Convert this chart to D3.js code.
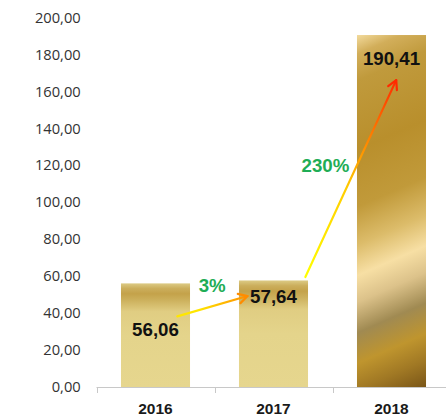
<!DOCTYPE html>
<html>
<head>
<meta charset="utf-8">
<script src="https://cdn.jsdelivr.net/npm/d3@7"></script>
<style>
  html, body { margin: 0; padding: 0; background: #fff; }
  svg { display: block; }
</style>
</head>
<body>
<svg id="chart" width="446" height="418"></svg>
<script>
// ---- data ----
const categories = ["2016", "2017", "2018"];
const values = [56.06, 57.64, 190.41];
const yTicks = [0, 20, 40, 60, 80, 100, 120, 140, 160, 180, 200];
// growth annotations: label, anchor category + offset (in band steps), value
const growthLabels = ["3%", "230%"];
const growthLabelCat = ["2016", "2017"];
const growthLabelOffset = [0.48, 0.44];
const growthLabelValue = [55.1, 120];
// arrows: from (category+offset, value) to (category+offset, value)
const arrowFromCat = ["2016", "2017"];
const arrowFromOffset = [0.185, 0.27];
const arrowFromValue = [38.2, 59.5];
const arrowToCat = ["2017", "2018"];
const arrowToOffset = [-0.22, 0.04];
const arrowToValue = [49.2, 166];
const arrowColorsStart = ["#ffe600", "#ffff00"];
const arrowColorsEnd = ["#ff8c00", "#ff2a00"];

const fmt = d => d.toFixed(2).replace(".", ",");

const svg = d3.select("#chart");
const W = 446, H = 418;
const x = d3.scaleBand().domain(categories).range([96.5, 450.5])
  .paddingInner(0.415).paddingOuter(0.2075);
const y = d3.scaleLinear().domain([0, 200]).range([387, 17.3]);
const step = x.step();
const cx = (c, off) => x(c) + x.bandwidth() / 2 + off * step;

const defs = svg.append("defs");

// gradient for smaller bars (vertical)
const g1 = defs.append("linearGradient").attr("id", "goldV")
  .attr("x1", 0).attr("y1", 0).attr("x2", 0).attr("y2", 1);
[[0, "#dccb85"], [0.05, "#cbae5c"], [0.1, "#c4a24a"], [0.16, "#ccb05c"],
 [0.27, "#e0cd82"], [0.5, "#e4d48b"], [1, "#e6d68e"]]
  .forEach(([o, c]) => g1.append("stop").attr("offset", o).attr("stop-color", c));

// diagonal gradient for the tall bar
const bx = x("2018"), bw = x.bandwidth(), by = y(values[2]), bh = y(0) - y(values[2]);
const nx = 0.399, ny = 0.917;
const len = bw * nx + bh * ny;
const g2 = defs.append("linearGradient").attr("id", "goldD")
  .attr("gradientUnits", "userSpaceOnUse")
  .attr("x1", bx).attr("y1", by)
  .attr("x2", bx + nx * len).attr("y2", by + ny * len);
[[0, "#f2da9c"], [0.05, "#d2ae5a"], [0.12, "#c09a3c"], [0.3, "#b98f2c"],
 [0.45, "#c19a3a"], [0.55, "#dcbc6a"], [0.63, "#f7dfa4"], [0.7, "#dcc28a"],
 [0.78, "#a08a52"], [0.86, "#bf952e"], [0.93, "#a07824"], [1, "#7a5618"]]
  .forEach(([o, c]) => g2.append("stop").attr("offset", o).attr("stop-color", c));

// arrow gradients
categories.slice(0, 2).forEach((_, i) => {
  const g = defs.append("linearGradient").attr("id", "arr" + i)
    .attr("gradientUnits", "userSpaceOnUse")
    .attr("x1", cx(arrowFromCat[i], arrowFromOffset[i])).attr("y1", y(arrowFromValue[i]))
    .attr("x2", cx(arrowToCat[i], arrowToOffset[i])).attr("y2", y(arrowToValue[i]));
  g.append("stop").attr("offset", 0).attr("stop-color", arrowColorsStart[i]);
  g.append("stop").attr("offset", i === 1 ? 0.45 : 0.3).attr("stop-color", i === 1 ? "#ffcc00" : arrowColorsStart[i]);
  g.append("stop").attr("offset", 1).attr("stop-color", arrowColorsEnd[i]);
});

// y axis labels
svg.append("g").selectAll("text").data(yTicks).join("text")
  .attr("x", 80.7).attr("y", d => y(d)).attr("dy", "0.36em")
  .attr("text-anchor", "end")
  .attr("font-family", "Open Sans, sans-serif").attr("font-size", 14.7)
  .attr("fill", "#333")
  .text(fmt);

// bars
svg.append("g").selectAll("rect").data(values).join("rect")
  .attr("x", (d, i) => x(categories[i]))
  .attr("y", d => y(d))
  .attr("width", x.bandwidth())
  .attr("height", d => y(0) - y(d))
  .attr("fill", (d, i) => i === 2 ? "url(#goldD)" : "url(#goldV)");

// x axis
const xAxis = svg.append("g");
xAxis.append("line").attr("x1", x.range()[0]).attr("x2", W)
  .attr("y1", y(0) + 0.5).attr("y2", y(0) + 0.5)
  .attr("stroke", "#c8c8c8").attr("stroke-width", 1);
const bounds = categories.map(c => x(c) - (step - x.bandwidth()) / 2);
xAxis.selectAll("line.tk").data(bounds).join("line").attr("class", "tk")
  .attr("x1", d => Math.round(d) + 0.5).attr("x2", d => Math.round(d) + 0.5)
  .attr("y1", y(0)).attr("y2", y(0) + 6)
  .attr("stroke", "#c8c8c8");
xAxis.selectAll("text").data(categories).join("text")
  .attr("x", d => x(d) + x.bandwidth() / 2).attr("y", 414)
  .attr("text-anchor", "middle")
  .attr("font-family", "Liberation Sans, Arial, sans-serif")
  .attr("font-weight", "bold").attr("font-size", 15.5)
  .attr("fill", "#1a1a1a")
  .text(d => d);

// value labels
const valueLabelY = [329.4, 296.7, 58.3].map(v => y.invert(v));
svg.append("g").selectAll("text").data(values).join("text")
  .attr("x", (d, i) => x(categories[i]) + x.bandwidth() / 2)
  .attr("y", (d, i) => y(valueLabelY[i])).attr("dy", "0.36em")
  .attr("text-anchor", "middle")
  .attr("font-family", "Liberation Sans, Arial, sans-serif")
  .attr("font-weight", "bold").attr("font-size", 18.7)
  .attr("fill", "#111")
  .text(fmt);

// arrows
arrowFromCat.forEach((_, i) => {
  const x1 = cx(arrowFromCat[i], arrowFromOffset[i]), y1 = y(arrowFromValue[i]);
  const x2 = cx(arrowToCat[i], arrowToOffset[i]), y2 = y(arrowToValue[i]);
  const ang = Math.atan2(y2 - y1, x2 - x1);
  const hl = 10, ha = 0.5;
  const g = svg.append("g").attr("fill", "none")
    .attr("stroke-width", 2.2).attr("stroke-linecap", "round").attr("stroke-linejoin", "round");
  g.append("line").attr("x1", x1).attr("y1", y1).attr("x2", x2).attr("y2", y2)
    .attr("stroke", `url(#arr${i})`);
  g.append("path")
    .attr("d", `M${x2 - hl * Math.cos(ang - ha)},${y2 - hl * Math.sin(ang - ha)} L${x2},${y2} L${x2 - hl * Math.cos(ang + ha)},${y2 - hl * Math.sin(ang + ha)}`)
    .attr("stroke", arrowColorsEnd[i]);
});

// growth labels
svg.append("g").selectAll("text").data(growthLabels).join("text")
  .attr("x", (d, i) => cx(growthLabelCat[i], growthLabelOffset[i]))
  .attr("y", (d, i) => y(growthLabelValue[i])).attr("dy", "0.36em")
  .attr("text-anchor", "middle")
  .attr("font-family", "Liberation Sans, Arial, sans-serif")
  .attr("font-weight", "bold").attr("font-size", 18.7)
  .attr("fill", "#1fad56")
  .text(d => d);
</script>
</body>
</html>
